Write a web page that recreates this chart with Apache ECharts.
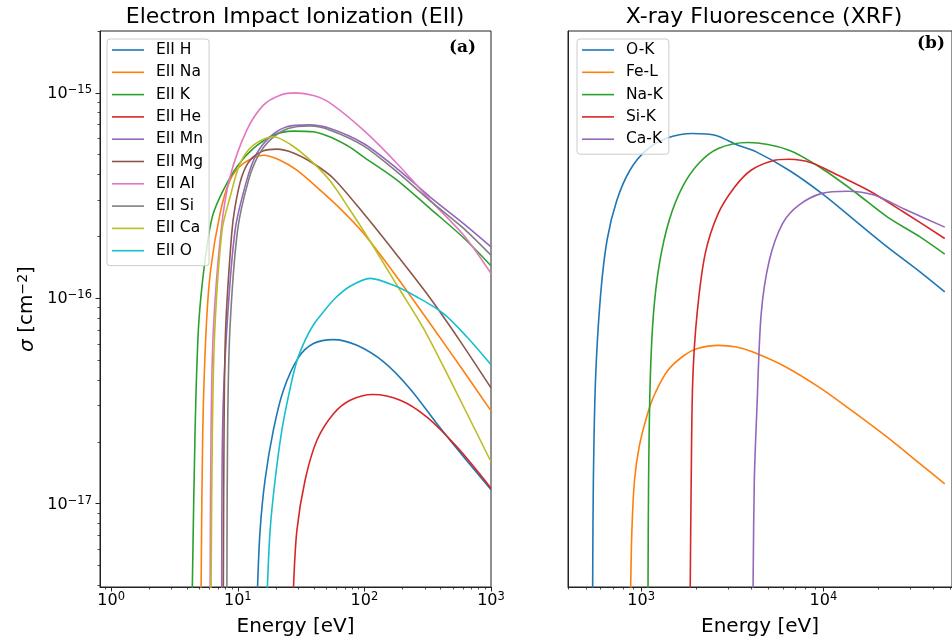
<!DOCTYPE html>
<html>
<head>
<meta charset="utf-8">
<script src="https://cdn.jsdelivr.net/npm/echarts@6/dist/echarts.min.js"></script>
<style>
  html, body { margin: 0; padding: 0; background: #fff; }
  #chart { width: 952px; height: 644px; }
</style>
</head>
<body>
<div id="chart"></div>
<script>
// ---- Electron impact ionization cross sections: [energy (eV), sigma (cm^2)] ----
const eiiH  = [[14.3, 3.8e-18], [15.0, 7.41e-18], [16.4, 1.30e-17], [19.1, 2.28e-17], [22.9, 3.56e-17], [30.1, 5.14e-17], [39.6, 6.02e-17], [57.0, 6.29e-17], [87.3, 5.90e-17], [142, 4.90e-17], [230, 3.62e-17], [374, 2.45e-17], [607, 1.69e-17], [1000, 1.17e-17]];
const eiiNa = [[5.13, 3.8e-18], [5.29, 2.28e-17], [5.62, 6.99e-17], [6.10, 1.37e-16], [7.25, 2.59e-16], [8.69, 3.76e-16], [11.07, 4.53e-16], [15.9, 4.97e-16], [21.6, 4.70e-16], [29.3, 4.20e-16], [44.7, 3.36e-16], [64.4, 2.73e-16], [98.4, 2.07e-16], [181, 1.266e-16], [352, 7.12e-17], [593, 4.51e-17], [1000, 2.83e-17]];
const eiiK  = [[4.37, 3.8e-18], [4.60, 2.28e-17], [4.88, 6.99e-17], [5.27, 1.22e-16], [5.86, 1.99e-16], [6.41, 2.59e-16], [7.69, 3.36e-16], [9.82, 4.36e-16], [13.28, 5.36e-16], [19.1, 6.22e-16], [27.5, 6.51e-16], [39.6, 6.46e-16], [57.0, 6.00e-16], [77.2, 5.43e-16], [98.4, 4.88e-16], [181, 3.76e-16], [331, 2.73e-16], [607, 1.97e-16], [1000, 1.44e-16]];
const eiiHe = [[27.5, 3.8e-18], [29.3, 7.41e-18], [34.0, 1.30e-17], [42.1, 2.03e-17], [57.0, 2.74e-17], [77.2, 3.19e-17], [117, 3.40e-17], [192, 3.19e-17], [312, 2.64e-17], [538, 1.89e-17], [1000, 1.19e-17]];
const eiiMn = [[7.47, 3.8e-18], [7.58, 2.28e-17], [8.18, 6.99e-17], [9.52, 2.14e-16], [11.78, 3.76e-16], [14.13, 5.07e-16], [18.0, 6.11e-16], [24.4, 6.83e-16], [36.2, 6.98e-16], [53.7, 6.71e-16], [98.4, 5.67e-16], [181, 4.28e-16], [331, 3.11e-16], [607, 2.31e-16], [1000, 1.78e-16]];
const eiiMg = [[7.69, 3.8e-18], [7.79, 2.28e-17], [8.01, 6.99e-17], [8.93, 2.03e-16], [9.52, 2.79e-16], [10.75, 3.90e-16], [12.51, 4.70e-16], [15.94, 5.22e-16], [20.3, 5.32e-16], [27.5, 5.10e-16], [39.6, 4.53e-16], [57.0, 3.83e-16], [98.4, 2.59e-16], [181, 1.62e-16], [331, 1.0e-16], [572, 6.17e-17], [1000, 3.66e-17]];
const eiiAl = [[6.04, 3.8e-18], [6.15, 2.28e-17], [6.41, 6.99e-17], [7.38, 2.14e-16], [8.69, 3.90e-16], [11.78, 6.58e-16], [15.94, 8.71e-16], [21.6, 9.74e-16], [28.5, 1.0e-15], [39.6, 9.70e-16], [53.7, 8.91e-16], [98.4, 6.58e-16], [181, 4.53e-16], [331, 3.0e-16], [607, 2.03e-16], [1000, 1.32e-16]];
const eiiSi = [[8.20, 3.8e-18], [8.31, 2.28e-17], [8.66, 6.99e-17], [9.96, 2.14e-16], [12.17, 3.76e-16], [14.6, 4.97e-16], [18.5, 5.98e-16], [25.0, 6.70e-16], [37.3, 6.89e-16], [53.7, 6.58e-16], [98.4, 5.52e-16], [181, 4.12e-16], [331, 2.98e-16], [607, 2.19e-16], [1000, 1.62e-16]];
const eiiCa = [[6.15, 3.8e-18], [6.30, 2.28e-17], [6.58, 6.99e-17], [7.51, 2.14e-16], [8.69, 3.11e-16], [10.43, 4.53e-16], [13.28, 5.56e-16], [19.1, 6.11e-16], [25.9, 5.62e-16], [37.3, 4.70e-16], [53.7, 3.72e-16], [77.2, 2.68e-16], [111, 1.895e-16], [181, 1.157e-16], [293, 7.14e-17], [477, 3.99e-17], [1000, 1.60e-17]];
const eiiO  = [[17.1, 3.8e-18], [18.0, 7.41e-18], [19.7, 1.30e-17], [22.3, 2.28e-17], [25.9, 3.64e-17], [29.4, 4.99e-17], [34.0, 6.24e-17], [39.4, 7.39e-17], [47.2, 8.55e-17], [58.8, 1.0e-16], [77.2, 1.144e-16], [111, 1.25e-16], [170, 1.157e-16], [260, 1.015e-16], [422, 8.42e-17], [646, 6.48e-17], [1000, 4.75e-17]];

// ---- X-ray fluorescence cross sections: [energy (eV), sigma (cm^2)] ----
const xrfOK  = [[542, 3.8e-24], [547, 1.30e-23], [562, 3.99e-23], [598, 1.015e-22], [650, 1.916e-22], [736, 3.0e-22], [868, 4.20e-22], [1068, 5.26e-22], [1369, 6.0e-22], [1914, 6.34e-22], [2545, 6.22e-22], [3398, 5.56e-22], [4285, 5.16e-22], [6477, 4.20e-22], [9804, 3.24e-22], [14820, 2.40e-22], [22400, 1.778e-22], [33900, 1.343e-22], [46350, 1.073e-22]];
const xrfFeL = [[876, 3.8e-24], [890, 7.41e-24], [920, 1.30e-23], [975, 1.887e-23], [1085, 2.74e-23], [1190, 3.43e-23], [1403, 4.46e-23], [1726, 5.28e-23], [2036, 5.69e-23], [2650, 5.90e-23], [3344, 5.79e-23], [4113, 5.47e-23], [6224, 4.63e-23], [9598, 3.66e-23], [14450, 2.82e-23], [22040, 2.13e-23], [33190, 1.59e-23], [46350, 1.25e-23]];
const xrfNaK = [[1091, 3.8e-24], [1099, 1.30e-23], [1122, 3.99e-23], [1169, 8.42e-23], [1260, 1.476e-22], [1426, 2.40e-22], [1684, 3.48e-22], [2069, 4.53e-22], [2651, 5.36e-22], [3866, 5.73e-22], [6477, 5.26e-22], [9804, 4.28e-22], [14820, 3.30e-22], [22400, 2.49e-22], [33900, 1.99e-22], [46350, 1.64e-22]];
const xrfSiK = [[1859, 3.8e-24], [1883, 1.30e-23], [1920, 3.99e-23], [2028, 8.42e-23], [2248, 1.65e-22], [2651, 2.59e-22], [3262, 3.48e-22], [4012, 4.20e-22], [5272, 4.67e-22], [6477, 4.75e-22], [8660, 4.56e-22], [12040, 3.97e-22], [18230, 3.30e-22], [27550, 2.63e-22], [46350, 1.954e-22]];
const xrfCaK = [[4113, 3.8e-24], [4180, 1.30e-23], [4322, 2.95e-23], [4560, 8.42e-23], [5054, 1.531e-22], [5970, 2.31e-22], [7333, 2.84e-22], [9804, 3.24e-22], [13650, 3.32e-22], [18990, 3.18e-22], [27550, 2.73e-22], [46350, 2.22e-22]];

const eiiNames = ['EII H', 'EII Na', 'EII K', 'EII He', 'EII Mn', 'EII Mg', 'EII Al', 'EII Si', 'EII Ca', 'EII O'];
const eiiSets  = [eiiH, eiiNa, eiiK, eiiHe, eiiMn, eiiMg, eiiAl, eiiSi, eiiCa, eiiO];
const xrfNames = ['O-K', 'Fe-L', 'Na-K', 'Si-K', 'Ca-K'];
const xrfSets  = [xrfOK, xrfFeL, xrfNaK, xrfSiK, xrfCaK];

// tab10 colour cycle
const palette = ['#1f77b4', '#ff7f0e', '#2ca02c', '#d62728', '#9467bd', '#8c564b', '#e377c2', '#7f7f7f', '#bcbd22', '#17becf'];

// axis ranges and labelled decades
const eiiXRange = [0.816, 1000];
const eiiYRange = [3.93e-18, 2.0e-15];
const xrfXRange = [397, 50800];
const xrfYRange = [3.93e-24, 2.0e-21];
const eiiXTicks = [1, 10, 100, 1000];
const eiiYTicks = [1e-17, 1e-16, 1e-15];
const xrfXTicks = [1e3, 1e4];
const xrfYTicks = [1e-23, 1e-22, 1e-21];

const FONT = '"DejaVu Sans", sans-serif';
const AXIS_COLOR = '#222';

function minorTicks(range) {
  const out = [];
  const k0 = Math.floor(Math.log10(range[0])), k1 = Math.ceil(Math.log10(range[1]));
  for (let k = k0; k <= k1; k++) {
    for (let m = 2; m <= 9; m++) {
      const v = m * Math.pow(10, k);
      if (v >= range[0] && v <= range[1]) out.push(v);
    }
  }
  return out;
}

function pow10Label(v) {
  const e = Math.round(Math.log10(v));
  const s = e < 0 ? '\u2212' + (-e) : String(e);
  return '{b|10}{s|' + s + '}';
}

const tickRich = {
  b: { fontFamily: FONT, fontSize: 16, color: '#000', lineHeight: 18, verticalAlign: 'bottom' },
  s: { fontFamily: FONT, fontSize: 11.5, color: '#000', lineHeight: 13, verticalAlign: 'top', padding: [0, 0, 9, 0] }
};

function majorAxis(dim, grid, range, ticks, extra) {
  return Object.assign({
    type: 'log', logBase: 10, gridIndex: grid,
    position: dim === 'x' ? 'bottom' : 'left',
    min: range[0], max: range[1],
    axisLine: { show: true, lineStyle: { color: AXIS_COLOR, width: 1 } },
    axisTick: { show: true, inside: false, length: 4.5, lineStyle: { color: AXIS_COLOR, width: 1 }, customValues: ticks },
    axisLabel: { show: true, customValues: ticks, formatter: pow10Label, rich: tickRich, margin: dim === 'x' ? 4 : 8 },
    splitLine: { show: false },
    minorTick: { show: false }
  }, extra || {});
}

function minorAxis(dim, grid, range) {
  return {
    type: 'log', logBase: 10, gridIndex: grid,
    position: dim === 'x' ? 'bottom' : 'left',
    min: range[0], max: range[1],
    axisLine: { show: false },
    axisTick: { show: true, inside: false, length: 2.5, lineStyle: { color: AXIS_COLOR, width: 0.8 }, customValues: minorTicks(range) },
    axisLabel: { show: false },
    splitLine: { show: false }
  };
}

const energyName = {
  name: 'Energy [eV]', nameLocation: 'middle', nameGap: 27,
  nameTextStyle: { fontFamily: FONT, fontSize: 20, color: '#000' }
};

function lineSeries(name, data, axisIndex, color) {
  return {
    type: 'line', name: name, data: data, xAxisIndex: axisIndex, yAxisIndex: axisIndex,
    symbol: 'none', smooth: 0.3, clip: true,
    color: color, itemStyle: { color: color }, lineStyle: { width: 1.6, color: color }
  };
}

const series = [];
eiiSets.forEach((d, i) => series.push(lineSeries(eiiNames[i], d, 0, palette[i])));
xrfSets.forEach((d, i) => series.push(lineSeries(xrfNames[i], d, 2, palette[i])));

const legendBase = {
  orient: 'vertical', top: 39, icon: 'rect', itemWidth: 32, itemHeight: 1.6, itemGap: 0.3,
  padding: [0, 6, 4, 5],
  backgroundColor: 'rgba(255,255,255,0.8)', borderColor: '#cccccc', borderWidth: 1, borderRadius: 3,
  textStyle: { fontFamily: FONT, fontSize: 15.5, color: '#000', lineHeight: 22, padding: [0, 0, 0, 7] },
  selectedMode: false
};

const option = {
  animation: false,
  backgroundColor: '#ffffff',
  grid: [
    { left: 100, top: 31, width: 391, height: 556, show: true, borderColor: AXIS_COLOR, borderWidth: 1, backgroundColor: 'transparent' },
    { left: 568, top: 31, width: 391, height: 556, show: true, borderColor: AXIS_COLOR, borderWidth: 1, backgroundColor: 'transparent' }
  ],
  xAxis: [
    majorAxis('x', 0, eiiXRange, eiiXTicks, energyName),
    minorAxis('x', 0, eiiXRange),
    majorAxis('x', 1, xrfXRange, xrfXTicks, energyName),
    minorAxis('x', 1, xrfXRange)
  ],
  yAxis: [
    majorAxis('y', 0, eiiYRange, eiiYTicks, {
      name: '{i|\u03c3} [cm{s|\u22122}]', nameLocation: 'middle', nameGap: 62, nameRotate: 90,
      nameTextStyle: {
        fontFamily: FONT, fontSize: 20, color: '#000',
        rich: {
          i: { fontFamily: FONT, fontSize: 20, fontStyle: 'italic', color: '#000', verticalAlign: 'bottom' },
          s: { fontFamily: FONT, fontSize: 14, color: '#000', verticalAlign: 'top', padding: [0, 0, 8, 0] }
        }
      }
    }),
    minorAxis('y', 0, eiiYRange),
    majorAxis('y', 1, xrfYRange, xrfYTicks),
    minorAxis('y', 1, xrfYRange)
  ],
  legend: [
    Object.assign({}, legendBase, { left: 107, data: eiiNames }),
    Object.assign({}, legendBase, { left: 577, data: xrfNames })
  ],
  graphic: [
    { type: 'text', x: 295, y: 17, style: { text: 'Electron Impact Ionization (EII)', font: '22px "DejaVu Sans"', fill: '#000', align: 'center', verticalAlign: 'middle' } },
    { type: 'text', x: 764, y: 17, style: { text: 'X-ray Fluorescence (XRF)', font: '22px "DejaVu Sans"', fill: '#000', align: 'center', verticalAlign: 'middle' } },
    { type: 'text', x: 476, y: 48, style: { text: '(a)', font: 'bold 17px "DejaVu Serif"', fill: '#000', align: 'right', verticalAlign: 'middle' } },
    { type: 'text', x: 945, y: 44, style: { text: '(b)', font: 'bold 17px "DejaVu Serif"', fill: '#000', align: 'right', verticalAlign: 'middle' } }
  ],
  series: series
};

const chart = echarts.init(document.getElementById('chart'), null, { renderer: 'canvas' });
chart.setOption(option);
</script>
</body>
</html>
